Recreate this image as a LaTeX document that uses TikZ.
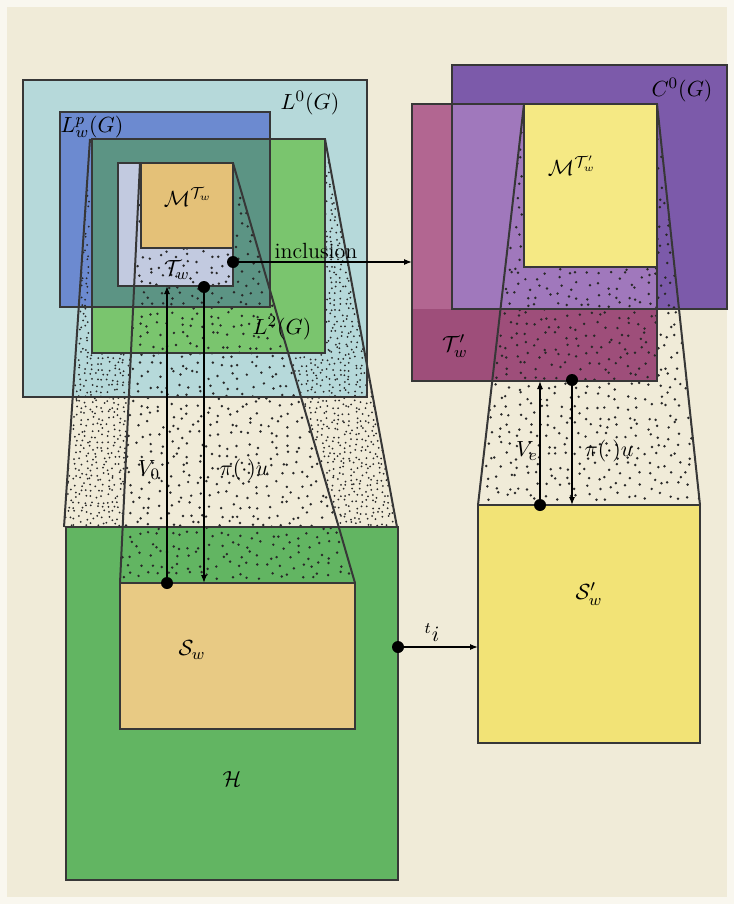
\documentclass[tikz,border=0pt]{standalone}
\usetikzlibrary{arrows.meta}
\definecolor{paper}{RGB}{240,235,216}
\definecolor{edge}{RGB}{55,55,55}
\definecolor{lzero}{RGB}{182,217,218}
\definecolor{lpc}{RGB}{108,138,208}
\definecolor{ltwo}{RGB}{122,197,110}
\definecolor{teal}{RGB}{92,148,132}
\definecolor{twc}{RGB}{194,202,224}
\definecolor{mcol}{RGB}{228,193,120}
\definecolor{hcol}{RGB}{98,181,98}
\definecolor{scol}{RGB}{232,202,132}
\definecolor{czero}{RGB}{124,90,170}
\definecolor{tpc}{RGB}{158,78,122}
\definecolor{tpl}{RGB}{178,102,145}
\definecolor{ovl}{RGB}{160,120,188}
\definecolor{mpc}{RGB}{245,233,132}
\definecolor{spc}{RGB}{242,227,118}
\definecolor{dotc}{RGB}{40,40,40}
\begin{document}
\begin{tikzpicture}[x=0.5pt,y=-0.5pt,
  box/.style={draw=edge,line width=1pt},
  conn/.style={line width=0.6pt,-{Latex[length=4pt,width=3pt]}},
  blob/.style={fill=black},
  fdot/.style={fill=dotc},
  lab/.style={font=\fontsize{11}{13}\selectfont, inner sep=1pt}]
\useasboundingbox (0,0) rectangle (734,904);
\fill[white!60!paper] (0,0) rectangle (734,904);
\fill[paper] (7,7) rectangle (727,897);
% ---- left fills
\fill[lzero] (23,80) rectangle (367,397);
\fill[lpc] (60,112) rectangle (270,307);
\fill[ltwo] (92,139) rectangle (325,353);
\fill[teal] (92,139) rectangle (270,307);
\fill[twc] (118,163) rectangle (233,286);
\fill[hcol] (66,527) rectangle (398,880);
% ---- right fills
\fill[tpc] (412,104) rectangle (657,381);
\fill[tpl] (412,104) rectangle (452,309);
\fill[czero] (452,65) rectangle (727,309);
\fill[ovl] (452,104) rectangle (657,309);
\fill[spc] (478,505) rectangle (700,743);
% ---- stipple: fine dots in the outer band, outside L2
\pgfmathsetseed{7}
\begin{scope}[even odd rule]
  \clip (90,139) -- (325,139) -- (397,527) -- (64,527) -- cycle
        (140,163) -- (233,163) -- (355,583) -- (120,583) -- cycle;
  \clip (0,0) rectangle (734,904) (92,139) rectangle (325,353);
  \foreach \gx in {64,69.5,...,398} \foreach \gy in {353,358.5,...,528}
    { \fill[fdot] ({\gx+4.4*rnd-2.2},{\gy+4.4*rnd-2.2}) circle (0.5pt); }
  \foreach \gx in {76,81.5,...,92} \foreach \gy in {139,144.5,...,353}
    { \fill[fdot] ({\gx+4.4*rnd-2.2},{\gy+4.4*rnd-2.2}) circle (0.5pt); }
  \foreach \gx in {325,330.5,...,372} \foreach \gy in {139,144.5,...,353}
    { \fill[fdot] ({\gx+4.4*rnd-2.2},{\gy+4.4*rnd-2.2}) circle (0.5pt); }
\end{scope}
% ---- coarse dots in the inner cones
\begin{scope}
  \clip (140,163) -- (233,163) -- (355,583) -- (120,583) -- cycle;
  \foreach \gx in {120,130,...,356} \foreach \gy in {165,175,...,583}
    { \fill[fdot] ({\gx+8*rnd-4},{\gy+8*rnd-4}) circle (0.68pt); }
\end{scope}
\begin{scope}
  \clip (524,104) -- (657,104) -- (700,505) -- (478,505) -- cycle;
  \foreach \gx in {478,488,...,700} \foreach \gy in {106,116,...,505}
    { \fill[fdot] ({\gx+8*rnd-4},{\gy+8*rnd-4}) circle (0.68pt); }
\end{scope}
% ---- opaque inner fills
\fill[mcol] (141,163) rectangle (233,248);
\fill[scol] (120,583) rectangle (355,729);
\fill[mpc] (524,104) rectangle (657,267);
% ---- outlines
\draw[box] (23,80) rectangle (367,397);
\draw[box] (60,112) rectangle (270,307);
\draw[box] (92,139) rectangle (325,353);
\draw[box] (118,163) rectangle (233,286);
\draw[box] (141,163) rectangle (233,248);
\draw[box] (66,527) rectangle (398,880);
\draw[box] (120,583) rectangle (355,729);
\draw[box] (90,139) -- (64,527);
\draw[box] (325,139) -- (397,527);
\draw[box] (140,163) -- (120,583);
\draw[box] (233,163) -- (355,583);
\draw[box] (412,104) rectangle (657,381);
\draw[box] (452,65) rectangle (727,309);
\draw[box] (524,104) rectangle (657,267);
\draw[box] (478,505) rectangle (700,743);
\draw[box] (524,104) -- (478,505);
\draw[box] (657,104) -- (700,505);
% ---- connectors
\coordinate (incA) at (233,262);
\coordinate (incB) at (412,262);
\coordinate (piA) at (204,287);
\coordinate (piB) at (204,583);
\coordinate (vA) at (167,583);
\coordinate (vB) at (167,286);
\coordinate (tiA) at (398,647);
\coordinate (tiB) at (478,647);
\coordinate (rpA) at (572,380);
\coordinate (rpB) at (572,505);
\coordinate (rvA) at (540,505);
\coordinate (rvB) at (540,381);
\draw[conn] (incA) -- (incB);
\draw[conn] (piA) -- (piB);
\draw[conn] (vA) -- (vB);
\draw[conn] (tiA) -- (tiB);
\draw[conn] (rpA) -- (rpB);
\draw[conn] (rvA) -- (rvB);
\foreach \p in {incA,piA,vA,tiA,rpA,rvA} \fill[blob] (\p) circle (3pt);
% ---- labels
\node[lab] (lL0) at (310,103) {$L^0(G)$};
\node[lab] (lLp) at (92,127) {$L^p_w(G)$};
\node[lab] (lM) at (188,197) {$\mathcal{M}^{\mathcal{T}_w}$};
\node[lab] (lT) at (177,270) {$\mathcal{T}_w$};
\node[lab] (linc) at (316,251) {inclusion};
\node[lab] (lL2) at (282,328) {$L^2(G)$};
\node[lab] (lV0) at (149,470) {$V_0$};
\node[lab] (lpi) at (244,470) {$\pi(\cdot)u$};
\node[lab] (lS) at (192,650) {$\mathcal{S}_w$};
\node[lab] (lH) at (232,779) {$\mathcal{H}$};
\node[lab] (lti) at (432,633) {${}^t i$};
\node[lab] (lC0) at (682,90) {$C^0(G)$};
\node[lab] (lMp) at (572,166) {$\mathcal{M}^{\mathcal{T}'_w}$};
\node[lab] (lTp) at (455,346) {$\mathcal{T}'_w$};
\node[lab] (lVe) at (527,451) {$V_e$};
\node[lab] (lpir) at (609,451) {$\pi(\cdot)u$};
\node[lab] (lSp) at (589,594) {$\mathcal{S}'_w$};
\end{tikzpicture}
\end{document}
